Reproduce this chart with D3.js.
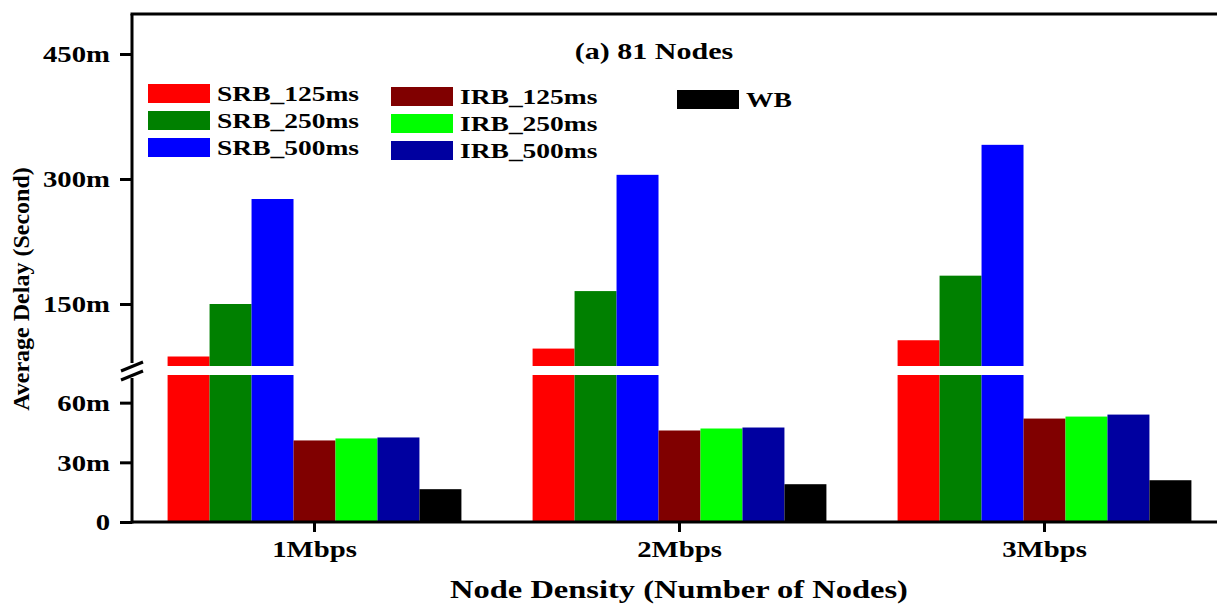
<!DOCTYPE html>
<html>
<head>
<meta charset="utf-8">
<script src="https://cdn.jsdelivr.net/npm/d3@7"></script>
<style>
  body { margin: 0; background: #fff; }
  svg text { font-family: "Liberation Serif", "Times New Roman", serif; font-weight: bold; fill: #000; }
</style>
</head>
<body>
<div id="chart"></div>
<script>
// data (seconds)
const categories = ['1Mbps', '2Mbps', '3Mbps'];
const seriesNames = ['SRB_125ms', 'SRB_250ms', 'SRB_500ms', 'IRB_125ms', 'IRB_250ms', 'IRB_500ms', 'WB'];
const seriesColors = ['#ff0000', '#008000', '#0000ff', '#800000', '#00ff00', '#0000a0', '#000000'];
const srb125 = [0.087, 0.0965, 0.1065];
const srb250 = [0.150, 0.1655, 0.184];
const srb500 = [0.276, 0.305, 0.341];
const irb125 = [0.041, 0.046, 0.052];
const irb250 = [0.042, 0.047, 0.053];
const irb500 = [0.0425, 0.0475, 0.054];
const wb = [0.0165, 0.019, 0.021];
const lowTicks = [0, 0.03, 0.06];
const highTicks = [0.15, 0.3, 0.45];

const seriesValues = [srb125, srb250, srb500, irb125, irb250, irb500, wb];

const width = 1217, height = 605;
const plotLeft = 132, plotTop = 14, plotBottom = 522;
const stretch = 'scale(1.25,1)';
const fmt = d3.format('~s');

const svg = d3.select('#chart').append('svg')
  .attr('width', width)
  .attr('height', height)
  .style('display', 'block');

// broken y axis: two linear segments
const yLow = d3.scaleLinear().domain([0, 0.0739]).range([plotBottom, 375]);
const yHigh = d3.scaleLinear().domain([0.0756, 0.498]).range([366, plotTop]);

const x0 = d3.scaleBand()
  .domain(categories)
  .range([plotLeft, plotLeft + 365 * 3])
  .paddingInner(0.195)
  .paddingOuter(0.0975);

const x1 = d3.scaleBand()
  .domain(seriesNames)
  .range([0, x0.bandwidth()]);

// bars
const rows = [];
categories.forEach((c, ci) => {
  seriesNames.forEach((s, si) => {
    rows.push({ cat: c, name: s, color: seriesColors[si], value: seriesValues[si][ci] });
  });
});

const bars = svg.append('g');
rows.forEach(d => {
  const bx = x0(d.cat) + x1(d.name);
  const lowTop = yLow(Math.min(d.value, yLow.domain()[1]));
  bars.append('rect')
    .attr('x', bx)
    .attr('y', lowTop)
    .attr('width', x1.bandwidth())
    .attr('height', plotBottom - lowTop)
    .attr('fill', d.color);
  if (d.value > yHigh.domain()[0]) {
    bars.append('rect')
      .attr('x', bx)
      .attr('y', yHigh(d.value))
      .attr('width', x1.bandwidth())
      .attr('height', yHigh.range()[0] - yHigh(d.value))
      .attr('fill', d.color);
  }
});

// y axes
function styleYAxis(g) {
  g.select('.domain').remove();
  g.selectAll('.tick line').attr('stroke', '#000').attr('stroke-width', 3);
  g.selectAll('.tick text')
    .attr('x', -17.6)
    .attr('dy', '0.34em')
    .attr('transform', stretch)
    .style('font-size', '23px')
    .style('font-family', '"Liberation Serif", "Times New Roman", serif');
}

svg.append('g')
  .attr('transform', `translate(${plotLeft},0)`)
  .call(d3.axisLeft(yLow).tickValues(lowTicks).tickFormat(fmt).tickSize(12))
  .call(styleYAxis);

svg.append('g')
  .attr('transform', `translate(${plotLeft},0)`)
  .call(d3.axisLeft(yHigh).tickValues(highTicks).tickFormat(fmt).tickSize(12))
  .call(styleYAxis);

// x axis
const xAxis = svg.append('g')
  .attr('transform', `translate(0,${plotBottom})`)
  .call(d3.axisBottom(x0).tickSize(10).tickSizeOuter(0));
xAxis.select('.domain').remove();
xAxis.selectAll('.tick line').attr('stroke', '#000').attr('stroke-width', 3);
xAxis.selectAll('.tick text')
  .attr('y', 35)
  .attr('dy', 0)
  .attr('transform', stretch)
  .style('font-size', '23px')
  .style('font-family', '"Liberation Serif", "Times New Roman", serif');

// frame lines
const frame = svg.append('g').attr('stroke', '#000').attr('stroke-width', 3).attr('fill', 'none');
frame.append('line').attr('x1', plotLeft).attr('x2', width).attr('y1', plotBottom).attr('y2', plotBottom);
frame.append('line').attr('x1', plotLeft - 1.5).attr('x2', width).attr('y1', plotTop).attr('y2', plotTop);
frame.append('line').attr('x1', plotLeft).attr('x2', plotLeft).attr('y1', plotTop).attr('y2', 363);
frame.append('line').attr('x1', plotLeft).attr('x2', plotLeft).attr('y1', 378).attr('y2', plotBottom + 1.5);

// axis break marks
frame.append('line').attr('x1', 121).attr('y1', 371).attr('x2', 143).attr('y2', 362);
frame.append('line').attr('x1', 121).attr('y1', 380).attr('x2', 143).attr('y2', 371);

// title
svg.append('text')
  .attr('transform', `translate(654,59) ${stretch}`)
  .attr('text-anchor', 'middle')
  .style('font-size', '24px')
  .text('(a) 81 Nodes');

// legend
const legendCols = [
  { x: 148, y: 84, items: [0, 1, 2] },
  { x: 391, y: 87, items: [3, 4, 5] },
  { x: 677, y: 90, items: [6] }
];
legendCols.forEach(col => {
  col.items.forEach((si, k) => {
    const ly = col.y + k * 27;
    svg.append('rect')
      .attr('x', col.x)
      .attr('y', ly)
      .attr('width', 62)
      .attr('height', 19)
      .attr('fill', seriesColors[si]);
    svg.append('text')
      .attr('transform', `translate(${col.x + 69},${ly + 17}) ${stretch}`)
      .style('font-size', '22px')
      .text(seriesNames[si]);
  });
});

// axis titles
svg.append('text')
  .attr('transform', `translate(679,598) ${stretch}`)
  .attr('text-anchor', 'middle')
  .style('font-size', '26px')
  .text('Node Density (Number of Nodes)');

svg.append('text')
  .attr('transform', 'translate(29,289) rotate(-90)')
  .attr('text-anchor', 'middle')
  .style('font-size', '24px')
  .text('Average Delay (Second)');
</script>
</body>
</html>
